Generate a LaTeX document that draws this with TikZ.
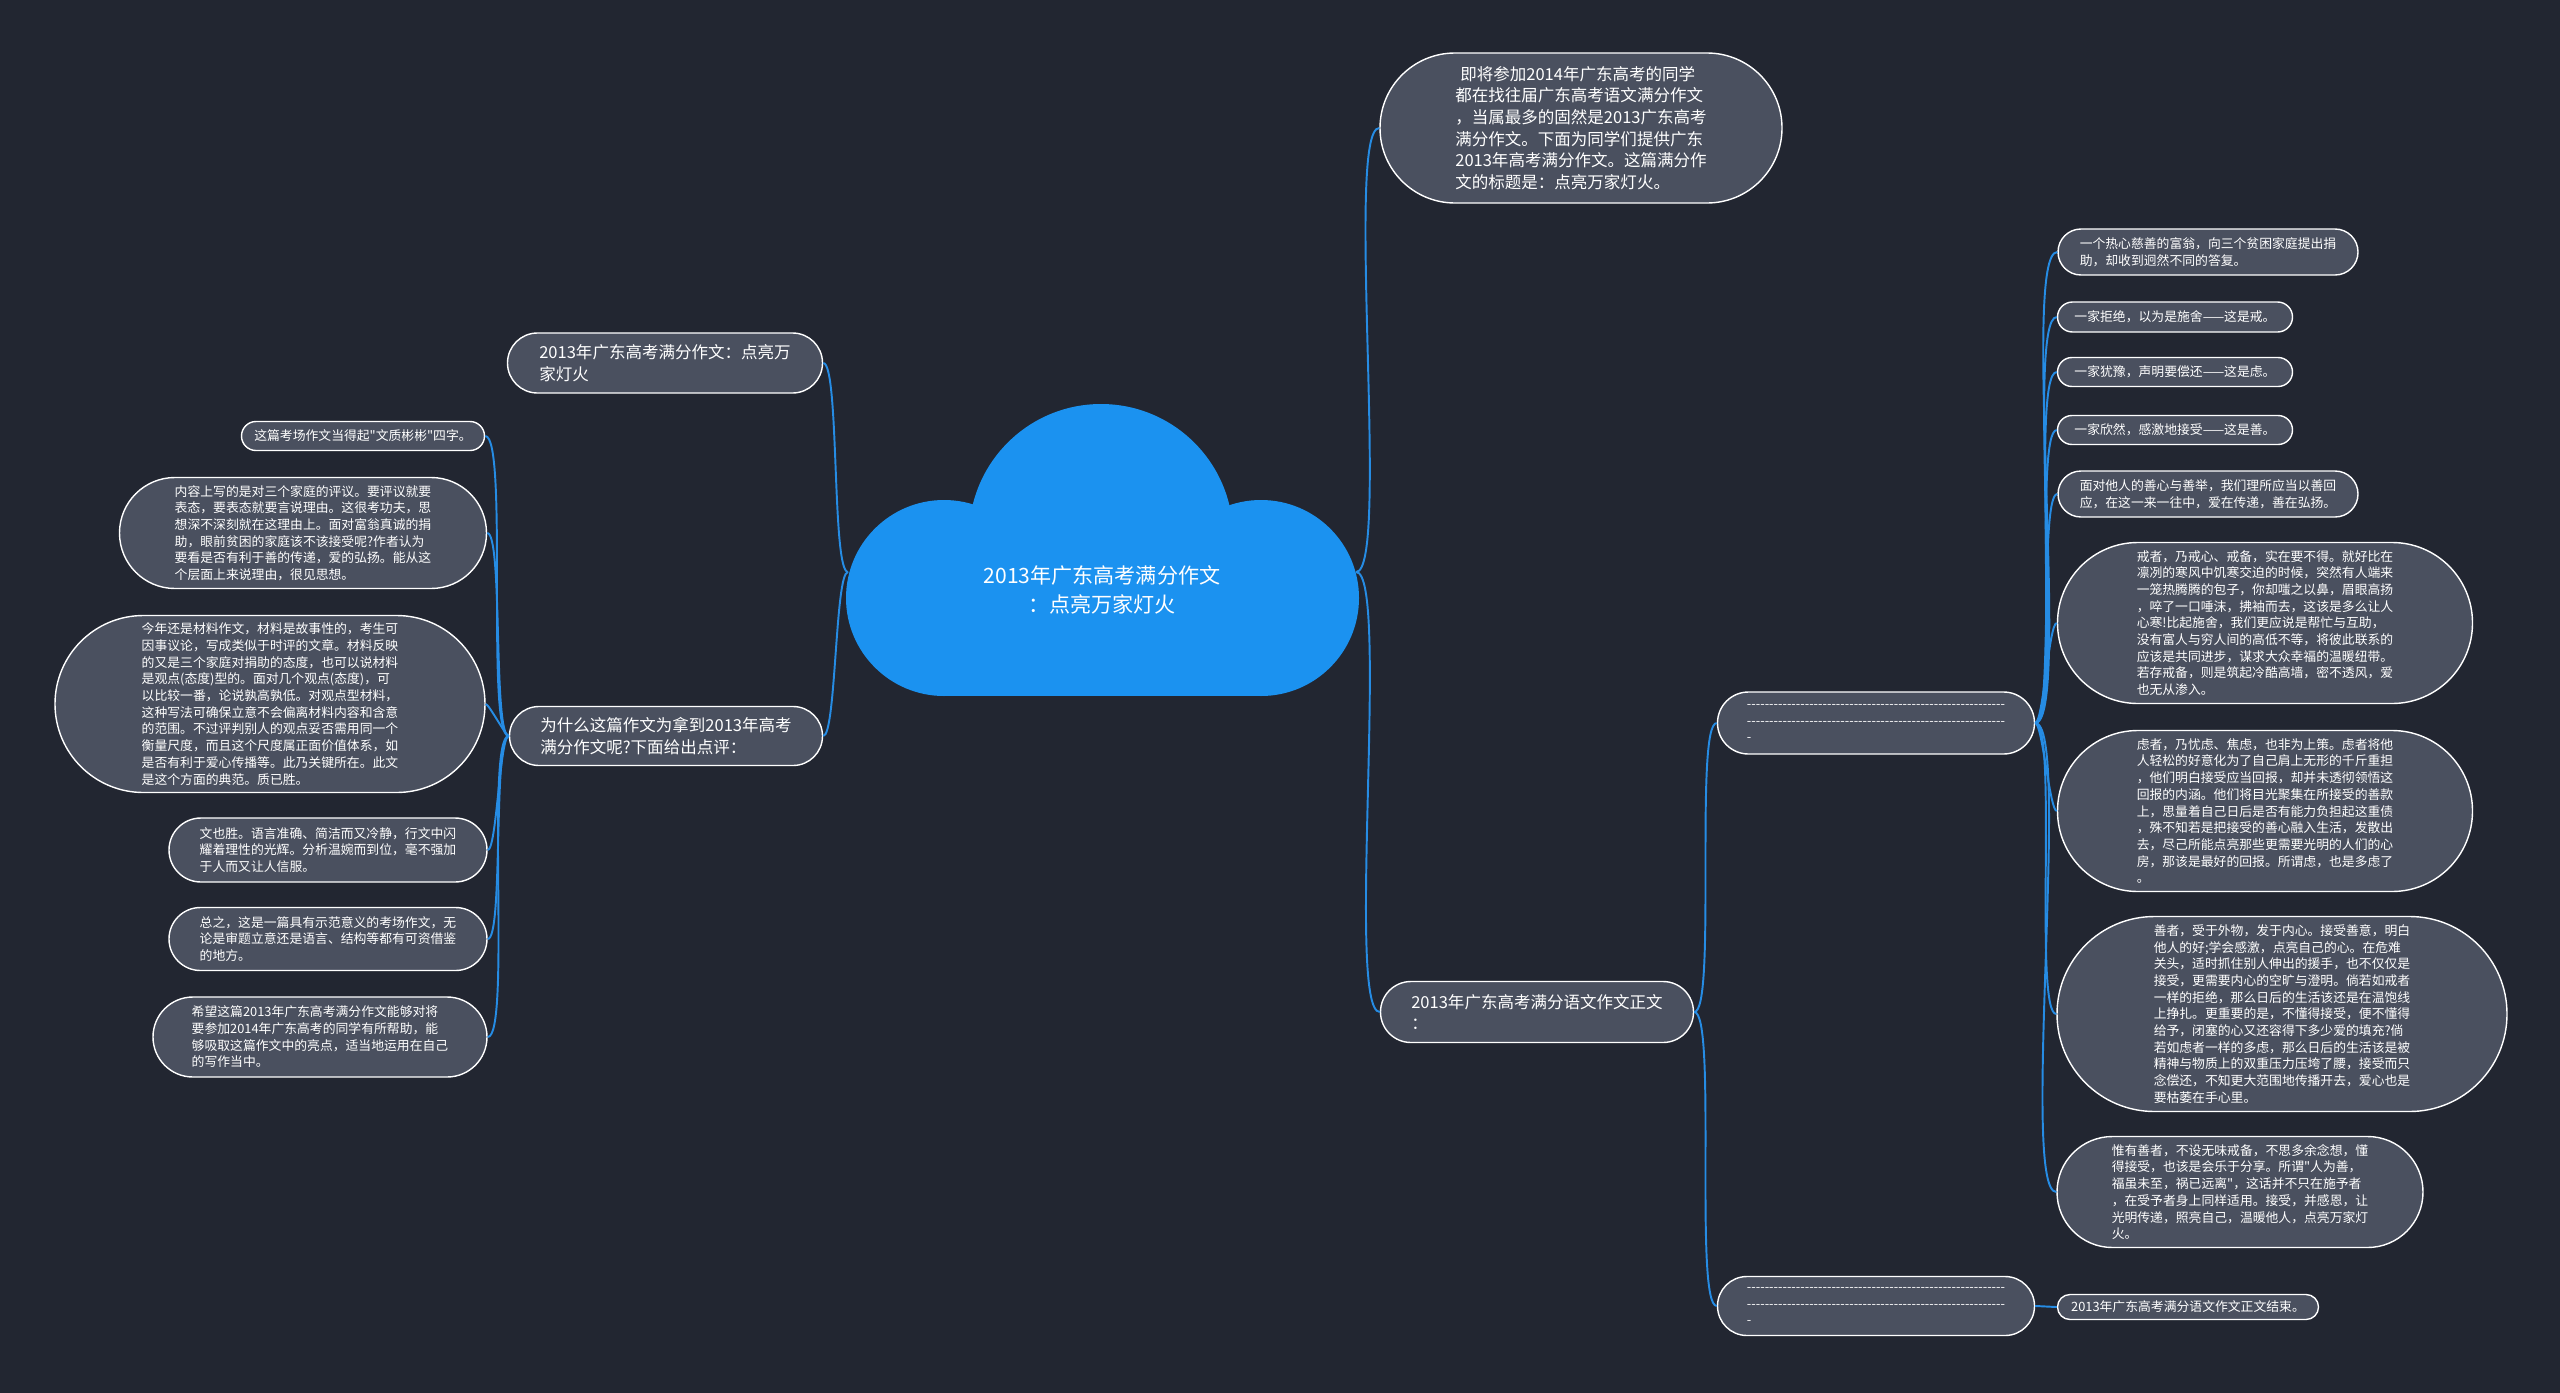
\documentclass[tikz,border=0pt]{standalone}
\usepackage{fontspec}
\newfontfamily\cjk{Noto Sans CJK SC}
\usetikzlibrary{positioning}
\definecolor{bgdark}{RGB}{34,38,49}
\definecolor{nodefill}{RGB}{74,80,95}
\definecolor{linkblue}{RGB}{38,140,228}
\definecolor{cloudblue}{RGB}{27,146,240}
\tikzset{
  topic/.style={draw=white, line width=0.8pt, fill=nodefill, text=white, align=left, inner sep=0pt, font=\cjk\fontsize{9.4}{12.3}\selectfont},
  leaf/.style={topic, font=\cjk\fontsize{7.3}{9.5}\selectfont},
  pill/.style 2 args={minimum width=#1*0.02cm, minimum height=#2*0.02cm, rounded corners=#2*0.01cm},
  linkR/.style={draw=linkblue, line width=1.1pt, out=0, in=180, looseness=0.2},
  linkL/.style={linkR, out=180, in=0},
}
\newcommand{\dashrow}{\foreach \k in {1,...,58}{-\kern0pt}}

\begin{document}
\begin{tikzpicture}[x=0.02cm, y=-0.02cm]
\fill[bgdark] (0,0) rectangle (2560,1393);
\useasboundingbox (0,0) rectangle (2560,1393);

% cloud
\fill[cloudblue] (944,598) circle[radius=98];
\fill[cloudblue] (1101,536) circle[radius=132];
\fill[cloudblue] (1261,598) circle[radius=98];
\fill[cloudblue] (944,598) rectangle (1261,696);
\node[text=white, align=center, font=\cjk\fontsize{12}{16.7}\selectfont] (root) at (1102,590) {2013年广东高考满分作文\\：点亮万家灯火};
\coordinate (rootL) at (848,572);
\coordinate (rootR) at (1356,572);

% right branch
\node[topic, pill={402}{150}] (intro) at (1581,128) {\hspace*{0.1cm}即将参加2014年广东高考的同学\\都在找往届广东高考语文满分作文\\，当属最多的固然是2013广东高考\\满分作文。下面为同学们提供广东\\2013年高考满分作文。这篇满分作\\文的标题是：点亮万家灯火。};
\node[topic, pill={313}{61}] (body) at (1537,1012) {2013年广东高考满分语文作文正文\\：};
\node[leaf, pill={317}{62}] (d1) at (1876,723) {\dashrow\\\dashrow\\-};
\node[leaf, pill={317}{59}] (d2) at (1876,1306) {\dashrow\\\dashrow\\-};

\node[leaf, pill={300}{46}] (e1) at (2208,252) {一个热心慈善的富翁，向三个贫困家庭提出捐\\助，却收到迥然不同的答复。};
\node[leaf, pill={235}{30}] (e2) at (2175,317) {一家拒绝，以为是施舍——这是戒。};
\node[leaf, pill={235}{29}] (e3) at (2175,372) {一家犹豫，声明要偿还——这是虑。};
\node[leaf, pill={235}{29}] (e4) at (2175,430) {一家欣然，感激地接受——这是善。};
\node[leaf, pill={300}{46}] (e5) at (2208,494) {面对他人的善心与善举，我们理所应当以善回\\应，在这一来一往中，爱在传递，善在弘扬。};
\node[leaf, pill={415}{161}] (e6) at (2265,623) {戒者，乃戒心、戒备，实在要不得。就好比在\\凛冽的寒风中饥寒交迫的时候，突然有人端来\\一笼热腾腾的包子，你却嗤之以鼻，眉眼高扬\\，啐了一口唾沫，拂袖而去，这该是多么让人\\心寒!比起施舍，我们更应说是帮忙与互助，\\没有富人与穷人间的高低不等，将彼此联系的\\应该是共同进步，谋求大众幸福的温暖纽带。\\若存戒备，则是筑起冷酷高墙，密不透风，爱\\也无从渗入。};
\node[leaf, pill={415}{161}] (e7) at (2265,811) {虑者，乃忧虑、焦虑，也非为上策。虑者将他\\人轻松的好意化为了自己肩上无形的千斤重担\\，他们明白接受应当回报，却并未透彻领悟这\\回报的内涵。他们将目光聚集在所接受的善款\\上，思量着自己日后是否有能力负担起这重债\\，殊不知若是把接受的善心融入生活，发散出\\去，尽己所能点亮那些更需要光明的人们的心\\房，那该是最好的回报。所谓虑，也是多虑了\\。};
\node[leaf, pill={450}{195}] (e8) at (2282,1014) {善者，受于外物，发于内心。接受善意，明白\\他人的好;学会感激，点亮自己的心。在危难\\关头，适时抓住别人伸出的援手，也不仅仅是\\接受，更需要内心的空旷与澄明。倘若如戒者\\一样的拒绝，那么日后的生活该还是在温饱线\\上挣扎。更重要的是，不懂得接受，便不懂得\\给予，闭塞的心又还容得下多少爱的填充?倘\\若如虑者一样的多虑，那么日后的生活该是被\\精神与物质上的双重压力压垮了腰，接受而只\\念偿还，不知更大范围地传播开去，爱心也是\\要枯萎在手心里。};
\node[leaf, pill={366}{111}] (e9) at (2240,1192) {惟有善者，不设无味戒备，不思多余念想，懂\\得接受，也该是会乐于分享。所谓"人为善，\\福虽未至，祸已远离"，这话并不只在施予者\\，在受予者身上同样适用。接受，并感恩，让\\光明传递，照亮自己，温暖他人，点亮万家灯\\火。};
\node[leaf, pill={261}{25}] (fin) at (2188,1307) {2013年广东高考满分语文作文正文结束。};

% left branch
\node[topic, pill={315}{60}] (title) at (665,363) {2013年广东高考满分作文：点亮万\\家灯火};
\node[topic, pill={313}{59}] (why) at (666,736) {为什么这篇作文为拿到2013年高考\\满分作文呢?下面给出点评：};

\node[leaf, pill={243}{29}] (c1) at (363,436) {这篇考场作文当得起"文质彬彬"四字。};
\node[leaf, pill={367}{111}] (c2) at (303,533) {内容上写的是对三个家庭的评议。要评议就要\\表态，要表态就要言说理由。这很考功夫，思\\想深不深刻就在这理由上。面对富翁真诚的捐\\助，眼前贫困的家庭该不该接受呢?作者认为\\要看是否有利于善的传递，爱的弘扬。能从这\\个层面上来说理由，很见思想。};
\node[leaf, pill={430}{177}] (c3) at (270,704) {今年还是材料作文，材料是故事性的，考生可\\因事议论，写成类似于时评的文章。材料反映\\的又是三个家庭对捐助的态度，也可以说材料\\是观点(态度)型的。面对几个观点(态度)，可\\以比较一番，论说孰高孰低。对观点型材料，\\这种写法可确保立意不会偏离材料内容和含意\\的范围。不过评判别人的观点妥否需用同一个\\衡量尺度，而且这个尺度属正面价值体系，如\\是否有利于爱心传播等。此乃关键所在。此文\\是这个方面的典范。质已胜。};
\node[leaf, pill={318}{64}] (c4) at (328,850) {文也胜。语言准确、简洁而又冷静，行文中闪\\耀着理性的光辉。分析温婉而到位，毫不强加\\于人而又让人信服。};
\node[leaf, pill={318}{63}] (c5) at (328,939) {总之，这是一篇具有示范意义的考场作文，无\\论是审题立意还是语言、结构等都有可资借鉴\\的地方。};
\node[leaf, pill={334}{80}] (c6) at (320,1037) {希望这篇2013年广东高考满分作文能够对将\\要参加2014年广东高考的同学有所帮助，能\\够吸取这篇作文中的亮点，适当地运用在自己\\的写作当中。};

% connectors
\draw[linkR] (rootR) to (intro.west);
\draw[linkR] (rootR) to (body.west);
\draw[linkR] (body.east) to (d1.west);
\draw[linkR] (body.east) to (d2.west);
\foreach \e in {e1,e2,e3,e4,e5,e6,e7,e8,e9}
  \draw[linkR] (d1.east) to (\e.west);
\draw[linkR] (d2.east) to (fin.west);
\draw[linkL] (rootL) to (title.east);
\draw[linkL] (rootL) to (why.east);
\foreach \c in {c1,c2,c3,c4,c5,c6}
  \draw[linkL] (why.west) to (\c.east);
\end{tikzpicture}
\end{document}
